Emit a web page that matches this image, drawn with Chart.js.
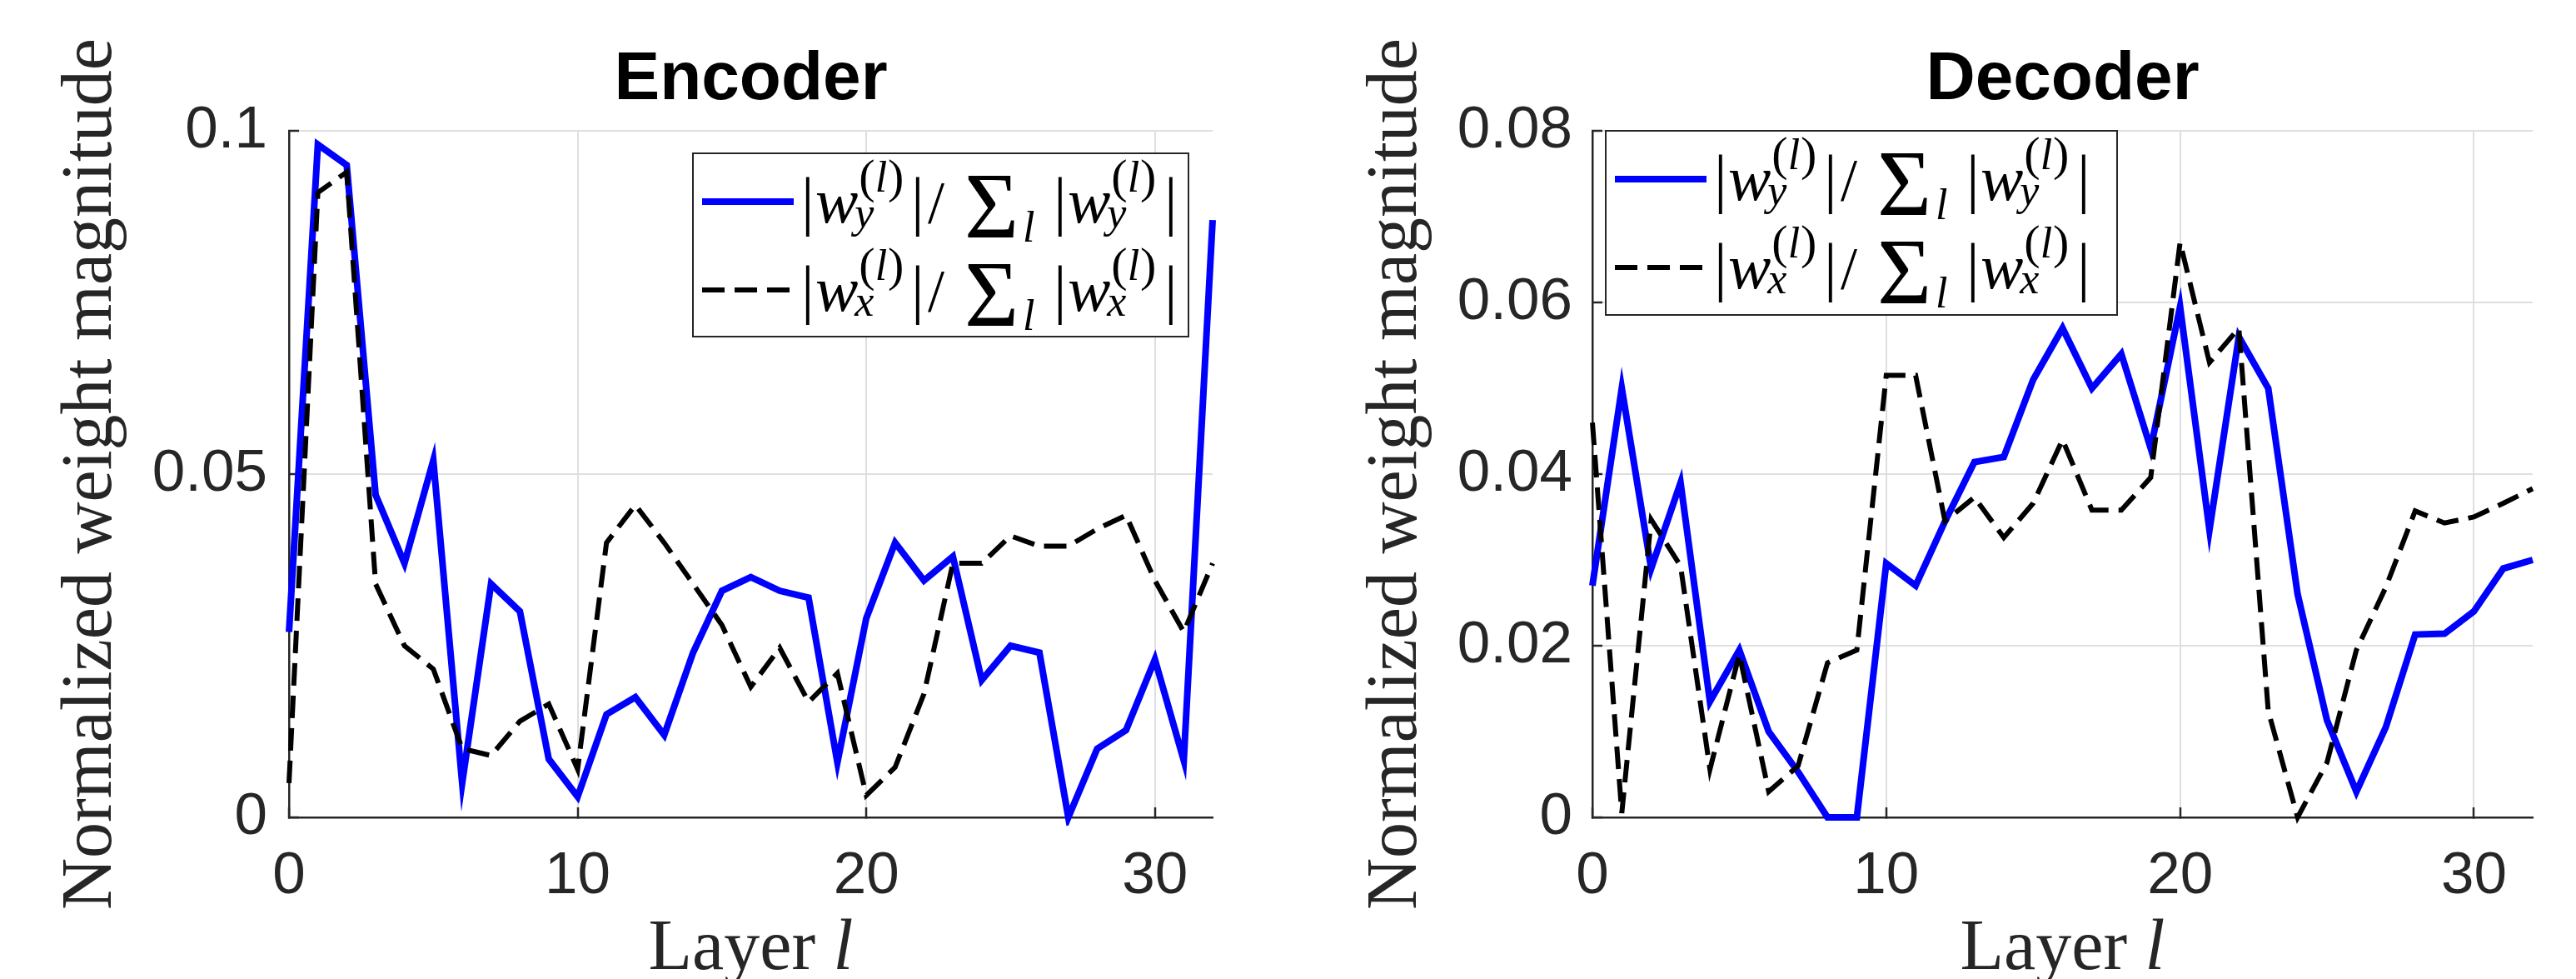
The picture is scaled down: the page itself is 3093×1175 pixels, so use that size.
<!DOCTYPE html>
<html>
<head>
<meta charset="utf-8">
<title>Encoder / Decoder normalized weight magnitude</title>
<script src="https://cdn.jsdelivr.net/npm/chart.js@4.4.1/dist/chart.umd.min.js"></script>
<style>
  html, body { margin: 0; padding: 0; background: #fff; }
  body { width: 3093px; height: 1175px; position: relative; overflow: hidden; }
  .panel { position: absolute; top: 0; height: 1175px; }
  #encBox { left: 0; width: 1546px; }
  #decBox { left: 1546px; width: 1547px; }
</style>
</head>
<body>
<div class="panel" id="encBox"><canvas id="encChart"></canvas></div>
<div class="panel" id="decBox"><canvas id="decChart"></canvas></div>
<script>
// layer index l
const layers = [0, 1, 2, 3, 4, 5, 6, 7, 8, 9, 10, 11, 12, 13, 14, 15, 16,
  17, 18, 19, 20, 21, 22, 23, 24, 25, 26, 27, 28, 29, 30, 31, 32];

// encoder: |w_y| / sum |w_y|  and  |w_x| / sum |w_x|
const encWy = [0.027, 0.098, 0.095, 0.047, 0.037, 0.052, 0.005, 0.034, 0.030, 0.0085,
  0.003, 0.015, 0.0175, 0.012, 0.024, 0.033, 0.035, 0.033, 0.032, 0.008,
  0.029, 0.040, 0.0345, 0.038, 0.020, 0.025, 0.024, 0.0, 0.010, 0.0127,
  0.023, 0.0083, 0.087];
const encWx = [0.005, 0.091, 0.094, 0.034, 0.025, 0.0216, 0.010, 0.009, 0.014, 0.0165,
  0.007, 0.040, 0.0455, 0.040, 0.034, 0.028, 0.019, 0.0247, 0.0168, 0.021,
  0.0032, 0.0073, 0.018, 0.037, 0.037, 0.041, 0.0395, 0.0395, 0.042, 0.044,
  0.0345, 0.027, 0.037];

// decoder
const decWy = [0.027, 0.050, 0.029, 0.039, 0.0135, 0.0195, 0.010, 0.0053, 0.0, 0.0,
  0.0296, 0.027, 0.0345, 0.0414, 0.042, 0.051, 0.057, 0.050, 0.054, 0.043,
  0.0595, 0.0335, 0.056, 0.050, 0.026, 0.0113, 0.003, 0.0105, 0.0213, 0.0214,
  0.024, 0.029, 0.030];
const decWx = [0.046, 0.0005, 0.0347, 0.0293, 0.0056, 0.019, 0.003, 0.006, 0.018, 0.0195,
  0.0515, 0.0515, 0.0345, 0.0373, 0.0326, 0.0366, 0.044, 0.0358, 0.0358, 0.0396,
  0.067, 0.053, 0.057, 0.0124, 0.0, 0.0064, 0.0195, 0.0268, 0.0357, 0.0343,
  0.035, 0.0366, 0.0383];

const xTicks = [0, 10, 20, 30];
const encYTicks = [0, 0.05, 0.1];
const decYTicks = [0, 0.02, 0.04, 0.06, 0.08];

const axisColor = '#262626';
const serif = '"Liberation Serif", "Times New Roman", serif';
const sans = '"Liberation Sans", Arial, Helvetica, sans-serif';

// draws |w_s^(l)| / sum_l |w_s^(l)| starting at x0, row centred on c
function drawRatio(ctx, x0, c, sub) {
  const main = '72px ' + serif, mainIt = 'italic 77px ' + serif;
  const barF = '78px ' + serif;
  const paren = '58px ' + serif;
  const scrIt = 'italic 52px ' + serif;
  const base = c + 25, supBase = c - 11, subBase = c + 31;
  const put = (t, f, x, y) => { ctx.font = f; ctx.fillText(t, x0 + x, y); return ctx.measureText(t).width; };
  const bar = x => put('|', barF, x - 8, base);
  const wTerm = x => {
    const ww = put('w', mainIt, x, base);
    let sx = x + ww + 1;
    sx += put('(', paren, sx, supBase);
    sx += put('l', scrIt, sx, supBase - 1) + 1;
    put(')', paren, sx, supBase);
    put(sub, scrIt, x + ww - 4, subBase);
  };
  bar(0);
  wTerm(9);
  bar(132);
  put('/', main, 144, base);
  put('\u03a3', '112px ' + serif, 188, c + 43);
  put('l', scrIt, 258, c + 48);
  bar(303);
  wTerm(312);
  bar(436);
}

const mathTextPlugin = {
  id: 'mathText',
  afterDraw(chart, args, opts) {
    const ctx = chart.ctx;
    const area = chart.chartArea;
    ctx.save();
    ctx.fillStyle = axisColor;
    ctx.textAlign = 'left';
    ctx.textBaseline = 'alphabetic';

    // x-axis label "Layer l"
    const fReg = '86px ' + serif, fIt = 'italic 86px ' + serif;
    ctx.font = fReg;
    const w1 = ctx.measureText('Layer ').width;
    ctx.font = fIt;
    const w2 = ctx.measureText('l').width;
    const lx = (area.left + area.right) / 2 - (w1 + w2) / 2;
    ctx.font = fReg;
    ctx.fillText('Layer ', lx, opts.labelBase);
    ctx.font = fIt;
    ctx.fillText('l', lx + w1, opts.labelBase);

    // legend
    const b = opts.box;
    ctx.fillStyle = '#fff';
    ctx.fillRect(b.x, b.y, b.w, b.h);
    ctx.strokeStyle = axisColor;
    ctx.lineWidth = 2;
    ctx.strokeRect(b.x, b.y, b.w, b.h);

    const rows = [b.y + 58, b.y + 164];
    const ds = chart.data.datasets;
    rows.forEach((ry, i) => {
      ctx.beginPath();
      ctx.strokeStyle = ds[i].borderColor;
      ctx.lineWidth = ds[i].borderWidth;
      ctx.setLineDash(ds[i].borderDash || []);
      ctx.moveTo(b.x + 11, ry);
      ctx.lineTo(b.x + 121, ry);
      ctx.stroke();
      ctx.setLineDash([]);
      ctx.fillStyle = '#000';
      drawRatio(ctx, b.x + 138, ry, i === 0 ? 'y' : 'x');
    });
    ctx.restore();
  }
};

function buildChart(id, p) {
  const gridOpts = { color: '#dfdfdf', lineWidth: 2, drawTicks: true, tickLength: -12, tickColor: axisColor, tickWidth: 2.5 };
  const borderOpts = { display: true, color: axisColor, width: 2.5 };
  const fmt = v => String(Math.round(v * 1000) / 1000);
  return new Chart(document.getElementById(id), {
    type: 'line',
    data: {
      datasets: [
        {
          label: 'w_y',
          data: layers.map((l, i) => ({ x: l, y: p.wy[i] })),
          borderColor: '#0000ff',
          borderWidth: 8,
          pointRadius: 0,
          tension: 0,
          order: 1,
          clip: 10
        },
        {
          label: 'w_x',
          data: layers.map((l, i) => ({ x: l, y: p.wx[i] })),
          borderColor: '#000000',
          borderWidth: 6,
          borderDash: [27, 12],
          pointRadius: 0,
          tension: 0,
          order: 0,
          clip: 10
        }
      ]
    },
    options: {
      responsive: true,
      maintainAspectRatio: false,
      animation: false,
      devicePixelRatio: 1,
      layout: { padding: { left: 0, right: p.padRight, top: 0, bottom: 0 } },
      plugins: {
        legend: { display: false },
        tooltip: { enabled: false },
        title: {
          display: true,
          text: p.title,
          fullSize: false,
          color: '#000',
          font: { family: sans, size: 82, weight: 'bold' },
          padding: { top: 47, bottom: 11.6 }
        },
        mathText: { box: p.legendBox, labelBase: 1163 }
      },
      scales: {
        x: {
          type: 'linear',
          min: 0,
          max: 32,
          afterBuildTicks: s => { s.ticks = xTicks.map(v => ({ value: v })); },
          ticks: { font: { family: sans, size: 71 }, color: axisColor, padding: 41, maxRotation: 0, callback: fmt },
          grid: gridOpts,
          border: borderOpts,
          afterFit: s => { s.height = 194; }
        },
        y: {
          min: 0,
          max: p.yMax,
          afterBuildTicks: s => { s.ticks = p.yTicks.map(v => ({ value: v })); },
          ticks: { font: { family: sans, size: 71 }, color: axisColor, padding: p.yTickPad, callback: fmt },
          grid: gridOpts,
          border: borderOpts,
          title: {
            display: true,
            text: 'Normalized weight magnitude',
            color: axisColor,
            font: { family: serif, size: 86 },
            padding: { top: p.yTitlePad, bottom: 0 }
          },
          afterFit: s => { s.width = p.yAxisWidth; }
        }
      }
    },
    plugins: [mathTextPlugin]
  });
}

buildChart('encChart', {
  title: 'Encoder', wy: encWy, wx: encWx, yMax: 0.1, yTicks: encYTicks,
  padRight: 90, yAxisWidth: 347, yTickPad: 38, yTitlePad: 59,
  legendBox: { x: 832, y: 184, w: 595, h: 220 }
});
buildChart('decChart', {
  title: 'Decoder', wy: decWy, wx: decWx, yMax: 0.08, yTicks: decYTicks,
  padRight: 52, yAxisWidth: 366, yTickPad: 36, yTitlePad: 80,
  legendBox: { x: 382, y: 157, w: 614, h: 221 }
});
</script>
</body>
</html>
